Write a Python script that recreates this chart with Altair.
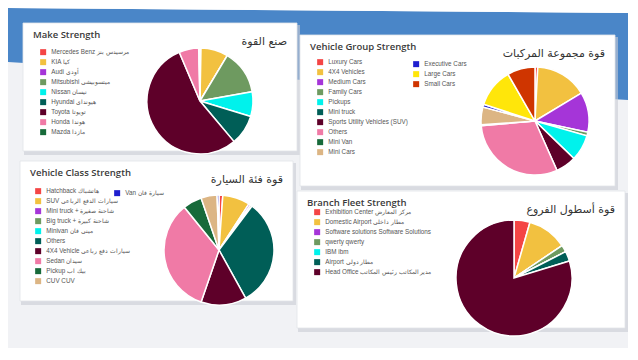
import altair as alt
import pandas as pd

W, H = 620, 340

# ---------------- data ----------------
RED, GOLD, PURPLE, SAGE, CYAN = "#f44545", "#f2c140", "#a535d8", "#6e9a60", "#00f2ec"
TEAL, MAROON, PINK, DKGREEN, TAN = "#005e57", "#5e0029", "#f07aa6", "#176a3a", "#dcb584"
BLUE, YELLOW, ORANGE = "#1f1fcf", "#ffe60a", "#cf3500"

make_names = ["Mercedes Benz مرسيدس بنز", "KIA كيا", "Audi أودي", "Mitsubishi ميتسوبيشي",
              "Nissan نيسان", "Hyundai هيونداي", "Toyota تويوتا", "Honda هوندا", "Mazda مازدا"]
make_values = [0.3, 8.3, 0.0, 13.6, 7.5, 9.2, 54.7, 6.0, 0.4]
make_colors = [RED, GOLD, PURPLE, SAGE, CYAN, TEAL, MAROON, PINK, DKGREEN]

group_names = ["Luxury Cars", "4X4 Vehicles", "Medium Cars", "Family Cars", "Pickups",
               "Mini truck", "Sports Utility Vehicles (SUV)", "Others", "Mini Van", "Mini Cars",
               "Executive Cars", "Large Cars", "Small Cars"]
group_values = [3, 56, 43, 4, 28, 0, 22, 109, 1, 19, 3, 42, 30]
group_colors = [RED, GOLD, PURPLE, SAGE, CYAN, TEAL, MAROON, PINK, DKGREEN, TAN, BLUE, YELLOW, ORANGE]

class_names = ["Hatchback هاتشباك", "SUV سيارات الدفع الرباعي", "Mini truck + شاحنة صغيرة",
               "Big truck + شاحنة كبيرة", "Minivan ميني فان", "Others",
               "4X4 Vehicle سيارات دفع رباعي", "Sedan سيدان", "Pickup بيك اب", "CUV CUV",
               "Van سيارة فان"]
class_values = [4, 29, 2, 2, 0, 114, 48, 122, 20, 17, 2]
class_colors = [RED, GOLD, PURPLE, SAGE, CYAN, TEAL, MAROON, PINK, DKGREEN, TAN, BLUE]

branch_names = ["Exhibition Center مركز المعارض", "Domestic Airport مطار داخلي",
                "Software solutions Software Solutions", "qwerty qwerty", "IBM ibm",
                "Airport مطار دولي", "Head Office مدير المكاتب رئيس المكاتب"]
branch_values = [16, 40, 0, 7, 0, 10, 287]
branch_colors = [RED, GOLD, PURPLE, SAGE, CYAN, TEAL, MAROON]

titles_en = ["Make Strength", "Vehicle Group Strength", "Vehicle Class Strength", "Branch Fleet Strength"]
titles_ar = ["صنع القوة", "قوة مجموعة المركبات", "قوة فئة السيارة", "قوة أسطول الفروع"]

# ---------------- layout (pixels) ----------------
cards = [(15, 289, 15, 143), (292, 607, 27, 178), (12, 285, 153, 293), (289, 617, 183, 320)]
pies = [(192, 93, 53), (527, 113, 54), (211, 242, 55), (506, 270, 58)]
legend_pos = [(32, 41), (309, 51), (27, 180), (306, 201)]
legend2_pos = {1: (405, 53, 10), 2: (106, 182, 10)}  # x, y, split index

one = pd.DataFrame({"a": [0]})
layers = []

# background band
band = pd.DataFrame({"bx": [0, W], "btop": [0, 5], "bbot": [54, 92]})
layers.append(alt.Chart(band).mark_area(color="#4a86c8").encode(
    x=alt.X("bx:Q", scale=None), y=alt.Y("bbot:Q", scale=None), y2="btop:Q"))
layers.append(alt.Chart(band).mark_area(color="#ffffff").encode(
    x=alt.X("bx:Q", scale=None), y=alt.Y("btop:Q", scale=None), y2=alt.datum(0)))

# cards
for (x0, x1, y0, y1) in cards:
    layers.append(alt.Chart(one).mark_rect(color="#c9ccd3", opacity=0.6).encode(
        x=alt.value(x0 + 1), x2=alt.value(x1 + 3), y=alt.value(y0 + 2), y2=alt.value(y1 + 4)))
    layers.append(alt.Chart(one).mark_rect(color="#ffffff", stroke="#e2e4e8", strokeWidth=0.8).encode(
        x=alt.value(x0), x2=alt.value(x1), y=alt.value(y0), y2=alt.value(y1)))

# titles
for i, (x0, x1, y0, y1) in enumerate(cards):
    layers.append(alt.Chart(one).mark_text(
        align="left", baseline="middle", font="Open Sans", fontSize=9.5,
        fontWeight=600, color="#3a3a3a").encode(
        x=alt.value(x0 + 10), y=alt.value(y0 + 12), text=alt.value(titles_en[i])))
    layers.append(alt.Chart(one).mark_text(
        align="right", baseline="middle", font="DejaVu Sans", fontSize=11,
        color="#333333").encode(
        x=alt.value(x1 - 10), y=alt.value(y0 + 19), text=alt.value(titles_ar[i])))

leg_common = dict(orient="none", title=None, symbolType="square", symbolSize=36,
                  symbolStrokeWidth=0, symbolOpacity=1, labelFontSize=6.3,
                  labelFont="Liberation Sans", labelColor="#555555", labelLimit=300,
                  rowPadding=3, labelOffset=5, padding=0)

series = [(make_names, make_values, make_colors),
          (group_names, group_values, group_colors),
          (class_names, class_values, class_colors),
          (branch_names, branch_values, branch_colors)]

for i, (names, values, colors) in enumerate(series):
    cx, cy, r = pies[i]
    lx, ly = legend_pos[i]
    df = pd.DataFrame({"name": names, "value": values, "idx": list(range(len(names)))})
    split = legend2_pos[i][2] if i in legend2_pos else len(names)
    layers.append(alt.Chart(df).mark_arc(radius=r, stroke="white", strokeWidth=1.5).encode(
        theta=alt.Theta("value:Q", stack=True),
        color=alt.Color("name:N", sort=names,
                        scale=alt.Scale(domain=names, range=colors),
                        legend=alt.Legend(legendX=lx, legendY=ly, values=names[:split], **leg_common)),
        order=alt.Order("idx:Q"),
        x=alt.value(cx), y=alt.value(cy)))
    if i in legend2_pos:
        l2x, l2y, s = legend2_pos[i]
        df2 = df.iloc[s:]
        layers.append(alt.Chart(df2).mark_square(opacity=0, size=1).encode(
            color=alt.Color("name:N", sort=names[s:],
                            scale=alt.Scale(domain=names[s:], range=colors[s:]),
                            legend=alt.Legend(legendX=l2x, legendY=l2y, **leg_common)),
            x=alt.value(cx), y=alt.value(cy)))

chart = alt.layer(*layers).resolve_scale(color="independent", theta="independent").properties(
    width=W, height=H, background="#f1f2f5", padding=0,
    autosize=alt.AutoSizeParams(type="none")
).configure_view(stroke=None)

chart.save("out.html", embed_options={"renderer": "svg", "actions": False})
